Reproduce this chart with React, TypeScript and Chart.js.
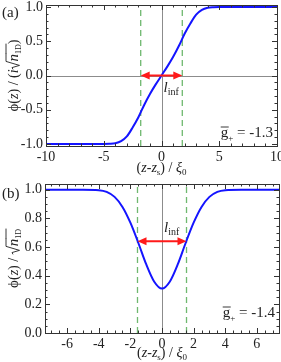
import React, { useEffect, useRef } from "react";
import { Chart, registerables } from "chart.js";

Chart.register(...registerables);

const SERIF = '"Liberation Serif", "DejaVu Serif", "Times New Roman", serif';

// ---------- Panel (a) data ----------
const xA = [-10, -6, -5, -4.5, -4, -3.5, -3, -2.5, -2, -1.5, -1, -0.5, 0, 0.5, 1, 1.5, 2, 2.5, 3, 3.5, 4, 4.5, 5, 6, 10];
const phiA = [-1, -1, -1, -0.998, -0.99, -0.96, -0.89, -0.76, -0.61, -0.43, -0.27, -0.13, 0, 0.13, 0.27, 0.43, 0.61, 0.76, 0.89, 0.96, 0.99, 0.998, 1, 1, 1];
const xTicksA = [-10, -5, 0, 5, 10];
const yTicksA = [-1, -0.5, 0, 0.5, 1];
const linfA = [-1.8, 1.8];
const arrowYA = 0;
const gValueA = "-1.3";

// ---------- Panel (b) data ----------
const xB = [-7.4, -5, -4, -3.5, -3, -2.5, -2, -1.5, -1, -0.5, 0, 0.5, 1, 1.5, 2, 2.5, 3, 3.5, 4, 5, 7.4];
const phiB = [1, 1, 0.997, 0.985, 0.95, 0.88, 0.77, 0.63, 0.48, 0.36, 0.31, 0.36, 0.48, 0.63, 0.77, 0.88, 0.95, 0.985, 0.997, 1, 1];
const xTicksB = [-6, -4, -2, 0, 2, 4, 6];
const yTicksB = [0, 0.2, 0.4, 0.6, 0.8, 1.0];
const linfB = [-1.55, 1.55];
const arrowYB = 0.64;
const gValueB = "-1.4";

type Run = { t: string; size?: number; italic?: boolean; dy?: number; over?: number; sqrt?: boolean; w?: number };

function drawRuns(ctx: CanvasRenderingContext2D, runs: Run[], x: number, y: number, align: string, color = "#222") {
  const fontOf = (r: Run) => `${r.italic ? "italic " : ""}${r.size || 14}px ${SERIF}`;
  const ws = runs.map((r) => {
    if (r.sqrt) return r.w || 8;
    ctx.font = fontOf(r);
    return ctx.measureText(r.t).width;
  });
  const total = ws.reduce((s, w) => s + w, 0);
  let cx = align === "center" ? x - total / 2 : align === "right" ? x - total : x;
  ctx.textAlign = "left";
  ctx.textBaseline = "alphabetic";
  ctx.fillStyle = color;
  ctx.strokeStyle = color;
  ctx.lineWidth = 0.9;
  runs.forEach((r, i) => {
    const w = ws[i];
    if (r.sqrt) {
      const h = r.over || 12;
      ctx.beginPath();
      ctx.moveTo(cx, y - 5);
      ctx.lineTo(cx + 1.8, y - 6);
      ctx.lineTo(cx + 4, y + 1.5);
      ctx.lineTo(cx + w, y - h);
      ctx.stroke();
    } else {
      ctx.font = fontOf(r);
      ctx.fillText(r.t, cx, y + (r.dy || 0));
      if (r.over !== undefined) {
        ctx.beginPath();
        ctx.moveTo(cx, y - r.over);
        ctx.lineTo(cx + w + 0.5, y - r.over);
        ctx.stroke();
      }
    }
    cx += w;
  });
}

type Cfg = {
  xs: number[]; ys: number[]; xTicks: number[]; yTicks: number[];
  xMin: number; xMax: number; yMin: number; yMax: number;
  xMinor: number; yMinor: number; yDigits: number;
  linf: number[]; arrowY: number; gValue: string; tag: string;
  padTop: number; padRight: number; xH: number; yW: number;
  zeroY: boolean; yTitle: Run[]; linfDy: number; gBaseline: number; titleBaseline: number;
};

const xTitle: Run[] = [
  { t: "(" }, { t: "z", italic: true }, { t: "-" }, { t: "z", italic: true },
  { t: "s", size: 9, dy: 3 }, { t: ") / " }, { t: "ξ", italic: true }, { t: "0", size: 9, dy: 3 },
];

function makeDeco(cfg: Cfg) {
  return {
    id: "deco",
    beforeDatasetsDraw(chart: any) {
      const { ctx, chartArea: a, scales } = chart;
      const x = scales.x, y = scales.y;
      ctx.save();
      ctx.strokeStyle = "#8c8c8c";
      ctx.lineWidth = 1;
      const px0 = Math.round(x.getPixelForValue(0)) + 0.5;
      ctx.beginPath();
      ctx.moveTo(px0, a.top);
      ctx.lineTo(px0, a.bottom);
      ctx.stroke();
      if (cfg.zeroY) {
        const py0 = Math.round(y.getPixelForValue(0)) + 0.5;
        ctx.beginPath();
        ctx.moveTo(a.left, py0);
        ctx.lineTo(a.right, py0);
        ctx.stroke();
      }
      ctx.restore();
    },
    afterDatasetsDraw(chart: any) {
      const { ctx, chartArea: a, scales } = chart;
      const x = scales.x, y = scales.y;
      ctx.save();
      // frame
      ctx.strokeStyle = "#333";
      ctx.lineWidth = 1;
      ctx.strokeRect(Math.round(a.left) + 0.5, Math.round(a.top) + 0.5, Math.round(a.right - a.left), Math.round(a.bottom - a.top));
      // ticks
      const tick = (v: number, len: number, axis: "x" | "y") => {
        ctx.beginPath();
        if (axis === "x") {
          const p = Math.round(x.getPixelForValue(v)) + 0.5;
          ctx.moveTo(p, a.bottom); ctx.lineTo(p, a.bottom - len);
          ctx.moveTo(p, a.top); ctx.lineTo(p, a.top + len);
        } else {
          const p = Math.round(y.getPixelForValue(v)) + 0.5;
          ctx.moveTo(a.left, p); ctx.lineTo(a.left + len, p);
          ctx.moveTo(a.right, p); ctx.lineTo(a.right - len, p);
        }
        ctx.stroke();
      };
      for (let k = Math.ceil(cfg.xMin / cfg.xMinor); k * cfg.xMinor <= cfg.xMax + 1e-9; k++) {
        const v = k * cfg.xMinor;
        const major = cfg.xTicks.some((t) => Math.abs(t - v) < 1e-9);
        tick(v, major ? 5 : 2.5, "x");
      }
      for (let k = Math.ceil(cfg.yMin / cfg.yMinor - 1e-9); k * cfg.yMinor <= cfg.yMax + 1e-9; k++) {
        const v = k * cfg.yMinor;
        const major = cfg.yTicks.some((t) => Math.abs(t - v) < 1e-9);
        tick(v, major ? 5 : 2.5, "y");
      }
      // red double arrow
      const x1 = x.getPixelForValue(cfg.linf[0]);
      const x2 = x.getPixelForValue(cfg.linf[1]);
      const ay = y.getPixelForValue(cfg.arrowY);
      const hl = 9, hw = 4;
      ctx.strokeStyle = "#ff1a1a";
      ctx.fillStyle = "#ff1a1a";
      ctx.lineWidth = 2;
      ctx.beginPath();
      ctx.moveTo(x1 + hl - 1, ay);
      ctx.lineTo(x2 - hl + 1, ay);
      ctx.stroke();
      ctx.beginPath();
      ctx.moveTo(x1, ay); ctx.lineTo(x1 + hl, ay - hw); ctx.lineTo(x1 + hl, ay + hw); ctx.closePath();
      ctx.fill();
      ctx.beginPath();
      ctx.moveTo(x2, ay); ctx.lineTo(x2 - hl, ay - hw); ctx.lineTo(x2 - hl, ay + hw); ctx.closePath();
      ctx.fill();
      // l_inf label
      const px0 = x.getPixelForValue(0);
      drawRuns(ctx, [{ t: "l", italic: true, size: 15 }, { t: "inf", size: 10, dy: 3 }], px0 + 2, ay + cfg.linfDy, "left");
      // g label
      drawRuns(ctx, [{ t: "g", size: 15, over: 10 }, { t: "+", size: 9, dy: 4 }, { t: " = " + cfg.gValue, size: 15 }], a.right - 4, cfg.gBaseline, "right");
      ctx.restore();
    },
    afterDraw(chart: any) {
      const { ctx, chartArea: a } = chart;
      ctx.save();
      drawRuns(ctx, [{ t: cfg.tag, size: 15 }], 2, 17, "left");
      drawRuns(ctx, xTitle, (a.left + a.right) / 2, cfg.titleBaseline, "center");
      ctx.translate(12, (a.top + a.bottom) / 2);
      ctx.rotate(-Math.PI / 2);
      drawRuns(ctx, cfg.yTitle, 0, 6, "center");
      ctx.restore();
    },
  };
}

function buildConfig(cfg: Cfg): any {
  const tickFont = { family: SERIF, size: 14 };
  return {
    type: "line",
    data: {
      datasets: [
        {
          data: cfg.xs.map((v, i) => ({ x: v, y: cfg.ys[i] })),
          borderColor: "#1414ff",
          borderWidth: 2,
          pointRadius: 0,
          cubicInterpolationMode: "monotone",
          fill: false,
        },
        ...cfg.linf.map((d) => ({
          data: [{ x: d, y: cfg.yMin }, { x: d, y: cfg.yMax }],
          borderColor: "#6fb86f",
          borderWidth: 1.3,
          borderDash: [6, 4],
          pointRadius: 0,
          fill: false,
        })),
      ],
    },
    options: {
      responsive: false,
      animation: false,
      devicePixelRatio: 1,
      layout: { padding: { left: 0, top: cfg.padTop, right: cfg.padRight, bottom: 0 } },
      plugins: { legend: { display: false }, tooltip: { enabled: false } },
      scales: {
        x: {
          type: "linear",
          min: cfg.xMin,
          max: cfg.xMax,
          grid: { display: false, drawTicks: false },
          border: { display: false },
          ticks: { font: tickFont, color: "#222", padding: 3, maxRotation: 0, autoSkip: false, callback: (v: any) => String(v) },
          afterBuildTicks: (s: any) => { s.ticks = cfg.xTicks.map((v) => ({ value: v })); },
          afterFit: (s: any) => { s.height = cfg.xH; s.paddingLeft = 0; s.paddingRight = 0; },
        },
        y: {
          type: "linear",
          min: cfg.yMin,
          max: cfg.yMax,
          grid: { display: false, drawTicks: false },
          border: { display: false },
          ticks: { font: tickFont, color: "#222", padding: 3, autoSkip: false, callback: (v: any) => Number(v).toFixed(cfg.yDigits) },
          afterBuildTicks: (s: any) => { s.ticks = cfg.yTicks.map((v) => ({ value: v })); },
          afterFit: (s: any) => { s.width = cfg.yW; s.paddingTop = 0; s.paddingBottom = 0; },
        },
      },
    },
    plugins: [makeDeco(cfg)],
  };
}

const cfgA: Cfg = {
  xs: xA, ys: phiA, xTicks: xTicksA, yTicks: yTicksA,
  xMin: -10, xMax: 10, yMin: -1.03, yMax: 1.03, xMinor: 1, yMinor: 0.1, yDigits: 1,
  linf: linfA, arrowY: arrowYA, gValue: gValueA, tag: "(a)",
  padTop: 5, padRight: 4, xH: 35, yW: 46, zeroY: true,
  yTitle: [
    { t: "ϕ", size: 15 }, { t: "(" }, { t: "z", italic: true }, { t: ") / (" }, { t: "i", italic: true },
    { t: "", sqrt: true, w: 8, over: 12 }, { t: "n", italic: true, size: 15, over: 12 }, { t: "1D", size: 8, dy: 3, over: 12 }, { t: ")" },
  ],
  linfDy: 16, gBaseline: 137, titleBaseline: 172,
};

const cfgB: Cfg = {
  xs: xB, ys: phiB, xTicks: xTicksB, yTicks: yTicksB,
  xMin: -7.4, xMax: 7.4, yMin: 0, yMax: 1.04, xMinor: 0.5, yMinor: 0.05, yDigits: 1,
  linf: linfB, arrowY: arrowYB, gValue: gValueB, tag: "(b)",
  padTop: 3, padRight: 2, xH: 29, yW: 45, zeroY: false,
  yTitle: [
    { t: "ϕ", size: 15 }, { t: "(" }, { t: "z", italic: true }, { t: ") / " },
    { t: "", sqrt: true, w: 8, over: 12 }, { t: "n", italic: true, size: 15, over: 12 }, { t: "1D", size: 8, dy: 3, over: 12 },
  ],
  linfDy: -9, gBaseline: 136, titleBaseline: 176,
};

function Panel({ cfg, top }: { cfg: Cfg; top: number }) {
  const ref = useRef<HTMLCanvasElement>(null);
  useEffect(() => {
    const chart = new Chart(ref.current as HTMLCanvasElement, buildConfig(cfg));
    return () => chart.destroy();
  }, [cfg]);
  return (
    <canvas
      ref={ref}
      width={281}
      height={181}
      style={{ position: "absolute", left: 0, top, width: 281, height: 181, display: "block" }}
    />
  );
}

export default function App() {
  return (
    <div style={{ position: "fixed", left: 0, top: 0, width: 281, height: 362, background: "#fff" }}>
      <Panel cfg={cfgA} top={0} />
      <Panel cfg={cfgB} top={181} />
    </div>
  );
}
